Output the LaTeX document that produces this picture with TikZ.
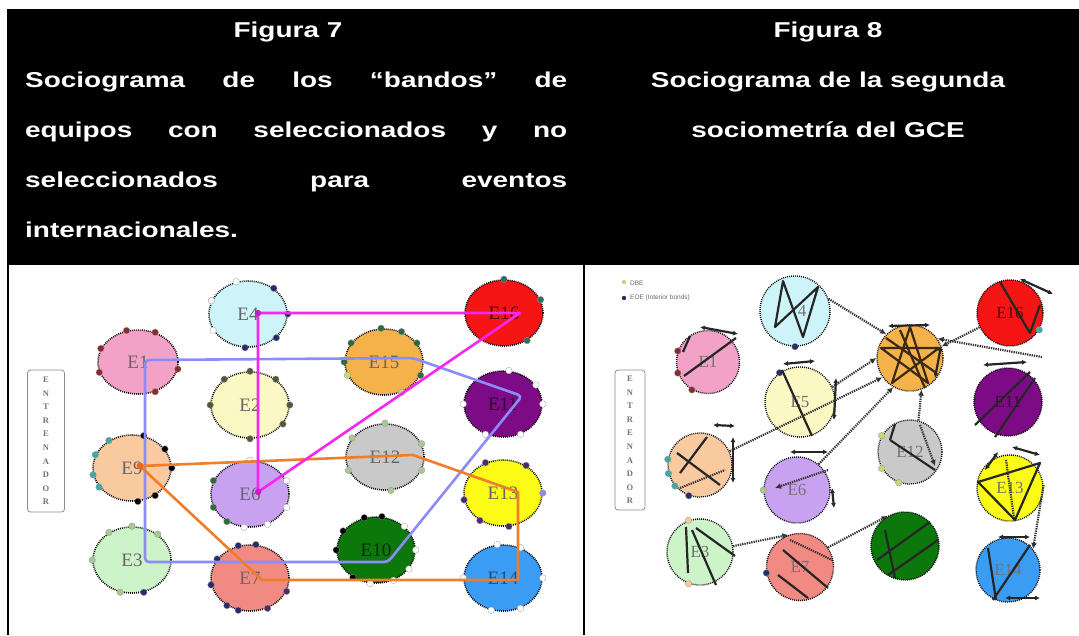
\documentclass[tikz,border=0pt]{standalone}
\usepackage{fontspec}
\setmainfont{Liberation Serif}
\newfontfamily\hdr[FakeStretch=1.3]{Liberation Sans}
\newfontfamily\lgd{Liberation Sans}
\usetikzlibrary{shapes.geometric,arrows.meta}
\definecolor{cCyan}{HTML}{CDF4F8}
\definecolor{cPink}{HTML}{F2A2C6}
\definecolor{cLYel}{HTML}{FCF8C4}
\definecolor{cOrg}{HTML}{F6B24A}
\definecolor{cRed}{HTML}{F51515}
\definecolor{cPur}{HTML}{7D0B85}
\definecolor{cGray}{HTML}{C9C9C9}
\definecolor{cYel}{HTML}{FBFB16}
\definecolor{cGrn}{HTML}{0C780C}
\definecolor{cBlu}{HTML}{3A9CF2}
\definecolor{cPch}{HTML}{F9C9A0}
\definecolor{cLav}{HTML}{C8A2F0}
\definecolor{cLGrn}{HTML}{CDF3C8}
\definecolor{cSal}{HTML}{F08A82}
\definecolor{magline}{HTML}{F527F0}
\definecolor{bluline}{HTML}{8C8CF8}
\definecolor{orgline}{HTML}{F07D2A}
\definecolor{dNavy}{HTML}{2B2B6B}
\definecolor{dRed}{HTML}{8A2A2A}
\definecolor{dOlive}{HTML}{55553A}
\definecolor{dGreen}{HTML}{2F6B3A}
\definecolor{dTeal}{HTML}{2E6E62}
\definecolor{lGreen}{HTML}{A8C890}
\definecolor{dPur}{HTML}{4B2B6B}
\definecolor{dTeal2}{HTML}{40A8A8}
\definecolor{yGreen}{HTML}{C8D870}
\definecolor{starln}{HTML}{3A2A12}
\newcommand\rdots[3]{\foreach \a in {#2}{\filldraw[draw=black!40, line width=0.3pt, fill=#3] (#1.\a) circle (3.3);}}
\begin{document}
\begin{tikzpicture}[x=1pt,y=-1pt,
  hdrtxt/.style={text=white, inner sep=0, font=\hdr\bfseries\fontsize{21.5}{21.5}\selectfont},
  grp/.style={ellipse, draw=black, line width=1.6pt, dash pattern=on 0.9pt off 1.1pt, inner sep=0, minimum width=78pt, minimum height=66pt, font=\fontsize{19}{19}\selectfont, text=black!60},
  grpb/.style={circle, draw=black, line width=1.4pt, dash pattern=on 0.9pt off 1.1pt, inner sep=0, minimum size=66pt, font=\fontsize{17}{17}\selectfont, text=black!55},
  mag/.style={draw=magline, line width=2.6pt, line join=round},
  blu/.style={draw=bluline, line width=2.6pt, line join=round},
  org/.style={draw=orgline, line width=2.6pt, line join=round},
  bond/.style={draw=black!85, line width=2.2pt, {Latex[length=5pt,width=5pt]}-{Latex[length=5pt,width=5pt]}},
  tie/.style={draw=black!85, line width=2.2pt, line join=round},
  link/.style={draw=black!80, line width=2.2pt, dash pattern=on 1.3pt off 1pt, -{Latex[length=6pt,width=6pt]}},
  coachbox/.style={draw=black!45, rounded corners=3pt, line width=0.8pt, align=center, text=black!55, font=\bfseries\fontsize{8.5}{13.6}\selectfont, inner sep=0},
  lgtext/.style={anchor=west, inner sep=0, text=black!60, font=\lgd\fontsize{6.5}{7}\selectfont},
]
\useasboundingbox (0,0) rectangle (1079,635);
\fill[white] (0,0) rectangle (1079,635);
% header
\fill[black] (7,9) rectangle (1079,265);
\draw[black, line width=2pt] (8,264) -- (8,635);
\draw[black, line width=2pt] (584,264) -- (584,635);
\node[hdrtxt, anchor=base] (t1) at (288,37) {Figura 7};
\node[hdrtxt, anchor=base west] (t2) at (25,87) {\makebox[542pt][s]{Sociograma de los “bandos” de}};
\node[hdrtxt, anchor=base west] (t3) at (25,137) {\makebox[542pt][s]{equipos con seleccionados y no}};
\node[hdrtxt, anchor=base west] (t4) at (25,187) {\makebox[542pt][s]{seleccionados para eventos}};
\node[hdrtxt, anchor=base west] (t5) at (25,237) {internacionales.};
\node[hdrtxt, anchor=base] (u1) at (828,37) {Figura 8};
\node[hdrtxt, anchor=base] (u2) at (828,87) {Sociograma de la segunda};
\node[hdrtxt, anchor=base] (u3) at (828,137) {sociometría del GCE};

% ===== Figure 7 =====
\node[coachbox, minimum width=37pt, minimum height=142pt] (coachA) at (46,441) {E\\N\\T\\R\\E\\N\\A\\D\\O\\R};
\node[grp, fill=cCyan] (a4) at (248,314) {E4};
\node[grp, fill=cPink, minimum width=80pt, minimum height=64pt] (a1) at (138,362) {E1};
\node[grp, fill=cLYel] (a2) at (250,405) {E2};
\node[grp, fill=cOrg] (a15) at (384,362) {E15};
\node[grp, fill=cRed, text=black!70!red] (a16) at (504,313) {E16};
\node[grp, fill=cPur, text=black!60!cPur] (a11) at (503,404) {E11};
\node[grp, fill=cGray] (a12) at (385,457) {E12};
\node[grp, fill=cYel] (a13) at (503,493) {E13};
\node[grp, fill=cGrn, text=black!60!cGrn] (a10) at (376,550) {E10};
\node[grp, fill=cBlu, text=black!50!cBlu] (a14) at (503,578) {E14};
\node[grp, fill=cPch] (a9) at (132,468) {E9};
\node[grp, fill=cLav] (a6) at (250,494) {E6};
\node[grp, fill=cLGrn] (a3) at (132,560) {E3};
\node[grp, fill=cSal] (a7) at (250,578) {E7};
\rdots{a4}{45,0,-40,-95}{dNavy}
\rdots{a4}{110,160,205}{white}
\rdots{a1}{110,60,-10,160,195,-60}{dRed}
\rdots{a2}{90,135,180,0,-30,-90,45}{dOlive}
\rdots{a15}{95,60,30,-20,150,180}{dGreen}
\rdots{a15}{200,-60}{yGreen}
\rdots{a16}{90,20,-50}{dTeal}
\rdots{a11}{80,30,0,-60,180,-120}{white}
\rdots{a12}{90,20,-20,150,-80,200}{lGreen}
\rdots{a13}{120,50,190,-80,-130}{dPur}
\rdots{a13}{0}{bluline}
\rdots{a10}{110,80,150,180,-130}{black}
\rdots{a10}{40,0,-30,-60,-100}{white}
\rdots{a14}{100,60,0,-60,-110,180}{white}
\rdots{a9}{130,160,190,210}{dTeal2}
\rdots{a9}{70,30,0,-50,-80}{black}
\rdots{a6}{160,200,230}{dGreen}
\rdots{a6}{90,20,-20,-60,-100}{white}
\rdots{a3}{90,45,130,180,-110}{lGreen}
\rdots{a3}{-70}{dNavy}
\rdots{a7}{110,80,150,190,-130,-110}{dNavy}
\rdots{a7}{-20,-60}{dPur}
% bands
\coordinate (q0) at (145,360);
\coordinate (q1) at (145,562);
\coordinate (q2) at (388,562);
\coordinate (q3) at (522,396);
\coordinate (q4) at (413,358);
\draw[blu, rounded corners=4pt] (q0) -- (q1) -- (q2) -- (q3) -- (q4) -- cycle;
\coordinate (o0) at (140,466);
\coordinate (o1) at (413,455);
\coordinate (o2) at (518,492);
\coordinate (o3) at (518,580);
\coordinate (o4) at (262,580);
\draw[org] (o0) -- (o1) -- (o2) -- (o3) -- (o4) -- cycle;
\coordinate (m0) at (520,313);
\coordinate (m1) at (258,313);
\coordinate (m2) at (258,492);
\draw[mag] (m0) -- (m1) -- (m2) -- cycle;
\fill[magline!80!black] (m1) circle (3.2);
\fill[magline!80!black] (m2) circle (3.2);
\fill[orgline!80!red] (o0) circle (3.5);

% ===== Figure 8 =====
\fill[yGreen] (624,282) circle (2.2);
\node[lgtext] (lg1) at (630,283) {DBE};
\fill[dNavy] (624,298) circle (2.2);
\node[lgtext] (lg2) at (630,298) {EOE (Interior bonds)};
\node[coachbox, minimum width=30pt, minimum height=140pt] (coachB) at (630,440) {E\\N\\T\\R\\E\\N\\A\\D\\O\\R};
\node[grpb, fill=cCyan, minimum size=70pt] (b4) at (795,311) {\hspace{14pt}4};
\node[grpb, fill=cPink, minimum size=63pt] (b1) at (708,362) {E1};
\node[grpb, fill=cLYel, minimum size=70pt] (b5) at (800,402) {E5};
\node[grpb, fill=cOrg] (b15) at (910,358) {};
\node[grpb, fill=cRed, text=black!60!red] (b16) at (1010,313) {E16};
\node[grpb, fill=cPur, minimum size=68pt, text=black!55!cPur] (b11) at (1008,402) {E11};
\node[grpb, fill=cGray, minimum size=64pt] (b12) at (910,452) {E12};
\node[grpb, fill=cYel] (b13) at (1010,488) {E13};
\node[grpb, fill=cGrn, minimum size=68pt] (b10) at (905,546) {};
\node[grpb, fill=cBlu, minimum size=64pt] (b14) at (1008,570) {E14};
\node[grpb, fill=cPch, minimum size=64pt] (b9) at (700,465) {};
\node[grpb, fill=cLav] (b6) at (797,490) {E6};
\node[grpb, fill=cLGrn] (b3) at (700,552) {E3};
\node[grpb, fill=cSal, minimum size=67pt] (b7) at (800,567) {E7};
\rdots{b1}{160,200,240}{dRed}
\rdots{b4}{-90}{dNavy}
\rdots{b5}{125}{dNavy}
\rdots{b9}{170,195,220}{dTeal2}
\rdots{b9}{250}{dNavy}
\rdots{b3}{110,250}{cPch}
\rdots{b7}{190}{dNavy}
\rdots{b16}{-30}{dTeal2}
\rdots{b12}{150,210,250}{yGreen}
\rdots{b6}{180}{lGreen}
% inner bonds
\draw[tie] (775,327) -- (783,281) -- (803,337) -- (818,287) -- cycle;
\draw[tie] (684,376) -- (736,338);
\draw[bond] (700,327) -- (738,334);
\draw[tie] (690,336) -- (683,352);
\draw[tie] (782,370) -- (812,436);
\draw[bond] (783,364) -- (815,361);
\draw[bond] (836,378) -- (834,420);
\draw[tie, draw=starln] (910,327) -- (928,383) -- (881,348) -- (939,348) -- (892,383) -- cycle;
\draw[tie, draw=starln] (886,338) -- (935,372);
\draw[tie, draw=starln] (900,330) -- (925,388);
\draw[bond] (888,326) -- (930,325);
\draw[bond] (941,346) -- (935,378);
\draw[tie] (1000,282) -- (1030,333) -- (1040,305);
\draw[bond] (1020,279) -- (1053,294);
\draw[bond] (983,365) -- (1027,362);
\draw[tie] (975,425) -- (1030,372);
\draw[tie] (995,437) -- (1035,378);
\draw[tie] (890,440) -- (935,470);
\draw[tie] (890,440) -- (895,424);
\draw[link] (920,425) -- (935,466);
\draw[tie] (978,482) -- (1040,463) -- (1015,520) -- cycle;
\draw[bond] (1012,447) -- (1040,455);
\draw[bond] (985,470) -- (998,452);
\draw[link, -] (1006,460) -- (1014,518);
\draw[tie] (877,560) -- (930,522);
\draw[tie] (888,575) -- (938,540);
\draw[tie] (885,530) -- (895,578);
\draw[tie] (988,548) -- (996,600);
\draw[tie] (993,600) -- (1030,545);
\draw[bond] (998,537) -- (1030,537);
\draw[bond] (1005,598) -- (1040,598);
\draw[tie] (677,453) -- (720,485);
\draw[tie] (680,473) -- (707,437);
\draw[link, -] (680,488) -- (725,470);
\draw[bond] (733,437) -- (733,483);
\draw[bond] (713,425) -- (735,426);
\draw[link] (828,470) -- (775,488);
\draw[bond] (790,452) -- (828,452);
\draw[bond] (832,488) -- (834,508);
\draw[tie] (686,527) -- (688,573);
\draw[tie] (692,530) -- (716,585);
\draw[tie] (696,528) -- (735,556);
\draw[tie] (783,550) -- (828,588);
\draw[link, -] (790,540) -- (832,560);
\draw[tie] (778,575) -- (808,598);
% dotted links between groups
\draw[link] (b4.20) -- (b15.135);
\draw[link] (b5.25) -- (b15.180);
\draw[link] (b16.205) -- (b15.20);
\coordinate (c1) at (1042,357);
\draw[link] (c1) -- (b15.35);
\draw[link] (b9.25) -- (b15.215);
\draw[link] (b6.50) -- (b15.240);
\draw[link] (b12.75) -- (b15.290);
\draw[link] (b7.35) -- (b10.120);
\draw[link] (b3.10) -- (b7.110);
\draw[link] (b13.5) -- (b14.40);
\end{tikzpicture}
\end{document}
